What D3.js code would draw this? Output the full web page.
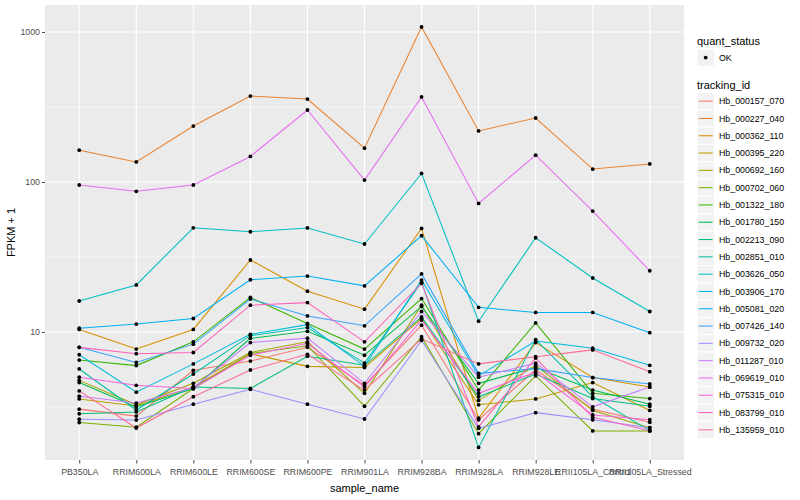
<!DOCTYPE html>
<html>
<head>
<meta charset="utf-8">
<script src="https://cdn.jsdelivr.net/npm/d3@7"></script>
<style>
  body { margin: 0; background: #fff; }
  text { font-family: "Liberation Sans", Arial, sans-serif; }
</style>
</head>
<body>
<svg width="800" height="500"></svg>
<script>
var samples = ["PB350LA", "RRIM600LA", "RRIM600LE", "RRIM600SE", "RRIM600PE", "RRIM901LA",
    "RRIM928BA", "RRIM928LA", "RRIM928LE", "RRII105LA_Control", "RRII105LA_Stressed"];

var trackingIds = ["Hb_000157_070", "Hb_000227_040", "Hb_000362_110", "Hb_000395_220", "Hb_000692_160",
    "Hb_000702_060", "Hb_001322_180", "Hb_001780_150", "Hb_002213_090", "Hb_002851_010",
    "Hb_003626_050", "Hb_003906_170", "Hb_005081_020", "Hb_007426_140", "Hb_009732_020",
    "Hb_011287_010", "Hb_069619_010", "Hb_075315_010", "Hb_083799_010", "Hb_135959_010"];

var colors = ["#F8766D", "#EA8331", "#D89000", "#C09B00", "#A3A500", "#7CAE00", "#39B600", "#00BB4E",
    "#00BF7D", "#00C1A3", "#00BFC4", "#00BAE0", "#00B0F6", "#35A2FF", "#9590FF", "#C77CFF",
    "#E76BF3", "#FA62DB", "#FF62BC", "#FF6C91"];

// FPKM + 1, one row per tracking_id, one column per sample
var fpkm = [
    [3.06, 2.75, 5.55, 6.4, 7.9, 4.4, 11.1, 2.6, 5.6, 3.05, 2.5],
    [163, 136, 236, 374, 357, 168, 1080, 219, 267, 122, 132],
    [10.4, 7.7, 10.4, 30.2, 18.7, 14.2, 49, 2.66, 8.5, 4.97, 4.3],
    [3.58, 3.21, 4.3, 7.15, 5.9, 5.8, 12.3, 3.27, 3.58, 4.6, 3.0],
    [4.76, 3.27, 4.55, 7.3, 8.6, 3.9, 15.1, 3.5, 6.0, 3.0, 2.3],
    [2.49, 2.32, 4.2, 7.2, 8.1, 3.2, 9.3, 2.1, 5.1, 2.19, 2.19],
    [6.5, 5.97, 8.6, 17.0, 11.4, 7.7, 16.7, 4.1, 11.5, 3.9, 3.6],
    [4.6, 3.16, 4.2, 9.07, 10.1, 7.0, 14.8, 4.55, 5.8, 4.1, 3.3],
    [2.85, 2.93, 4.3, 4.2, 6.9, 6.0, 12.6, 3.7, 5.25, 3.6, 3.2],
    [5.67, 3.02, 5.25, 9.45, 10.7, 6.2, 21.5, 1.7, 8.9, 3.7, 2.2],
    [16.1, 20.6, 49.5, 46.6, 49.4, 38.6, 114, 11.8, 42.5, 22.9, 13.7],
    [7.05, 3.97, 6.13, 9.65, 11.2, 5.9, 22.2, 5.1, 8.7, 7.8, 6.0],
    [10.6, 11.3, 12.3, 22.3, 23.6, 20.3, 43.9, 14.6, 13.5, 13.5, 9.9],
    [7.9, 6.27, 8.3, 16.6, 12.8, 11.0, 24.4, 5.3, 5.7, 4.97, 4.5],
    [2.62, 2.59, 3.3, 4.15, 3.3, 2.63, 8.8, 2.28, 2.9, 2.6, 2.3],
    [3.73, 3.36, 4.25, 8.5, 9.1, 4.55, 13.7, 5.0, 6.2, 3.17, 4.3],
    [95.5, 86.7, 95.5, 148, 302, 103, 369, 72, 151, 64, 25.6],
    [5.0, 4.41, 4.2, 7.0, 8.4, 4.3, 12.0, 3.9, 5.4, 2.8, 2.6],
    [7.9, 7.17, 7.3, 15.1, 15.7, 8.6, 21.1, 2.33, 6.7, 2.7, 2.2],
    [4.05, 2.29, 3.7, 5.58, 7.1, 4.1, 9.0, 6.13, 6.85, 7.6, 5.44]
];

var yMajor = [10, 100, 1000];
var yMinor = [Math.sqrt(10), Math.sqrt(1000), Math.sqrt(100000)];

var svg = d3.select("svg");
var panel = { left: 45, right: 684, top: 5, bottom: 460 };

var x = d3.scalePoint().domain(samples).range([panel.left, panel.right]).padding(0.6);
// log axis: 10 sits at y=332, one decade is 150px
var y = d3.scaleLog()
    .domain([Math.pow(10, 1 - (panel.bottom - 332) / 150), Math.pow(10, 1 + (332 - panel.top) / 150)])
    .range([panel.bottom, panel.top]);

// panel background
svg.append("rect")
    .attr("x", panel.left).attr("y", panel.top)
    .attr("width", panel.right - panel.left).attr("height", panel.bottom - panel.top)
    .attr("fill", "#EBEBEB");

var grid = svg.append("g");
grid.selectAll("line.minor").data(yMinor).enter().append("line")
    .attr("x1", panel.left).attr("x2", panel.right)
    .attr("y1", function (d) { return y(d); }).attr("y2", function (d) { return y(d); })
    .attr("stroke", "#fff").attr("stroke-width", 0.55);
grid.selectAll("line.majy").data(yMajor).enter().append("line")
    .attr("x1", panel.left).attr("x2", panel.right)
    .attr("y1", function (d) { return y(d); }).attr("y2", function (d) { return y(d); })
    .attr("stroke", "#fff").attr("stroke-width", 1.1);
grid.selectAll("line.majx").data(samples).enter().append("line")
    .attr("x1", function (d) { return x(d); }).attr("x2", function (d) { return x(d); })
    .attr("y1", panel.top).attr("y2", panel.bottom)
    .attr("stroke", "#fff").attr("stroke-width", 1.1);

// series
var rows = trackingIds.map(function (id, i) {
    return { id: id, color: colors[i], values: fpkm[i] };
});

var line = d3.line()
    .x(function (d, i) { return x(samples[i]); })
    .y(function (d) { return y(d); });

svg.append("g").selectAll("path").data(rows).enter().append("path")
    .attr("d", function (d) { return line(d.values); })
    .attr("fill", "none")
    .attr("stroke", function (d) { return d.color; })
    .attr("stroke-width", 1.05);

var pts = [];
rows.forEach(function (r) {
    r.values.forEach(function (v, i) { pts.push({ s: samples[i], v: v }); });
});
svg.append("g").selectAll("circle").data(pts).enter().append("circle")
    .attr("cx", function (d) { return x(d.s); })
    .attr("cy", function (d) { return y(d.v); })
    .attr("r", 1.9)
    .attr("fill", "#000");

// axes
var yAxis = d3.axisLeft(y).tickValues(yMajor).tickFormat(d3.format("d")).tickSize(3).tickPadding(2);
var gy = svg.append("g").attr("transform", "translate(" + panel.left + ",0)").call(yAxis);
var xAxis = d3.axisBottom(x).tickSize(3.5).tickPadding(5);
var gx = svg.append("g").attr("transform", "translate(0," + panel.bottom + ")").call(xAxis);
[gx, gy].forEach(function (g) {
    g.select(".domain").remove();
    g.selectAll(".tick line").attr("stroke", "#333").attr("stroke-width", 0.9);
    g.selectAll(".tick text").attr("fill", "#4D4D4D").style("font-size", "8.8px")
        .style("font-family", "'Liberation Sans', Arial, sans-serif");
});

svg.append("text")
    .attr("x", (panel.left + panel.right) / 2).attr("y", 492)
    .attr("text-anchor", "middle").style("font-size", "11px").attr("fill", "#000")
    .text("sample_name");
svg.append("text")
    .attr("transform", "translate(15," + ((panel.top + panel.bottom) / 2) + ") rotate(-90)")
    .attr("text-anchor", "middle").style("font-size", "11px").attr("fill", "#000")
    .text("FPKM + 1");

// legends
var lg = svg.append("g").attr("transform", "translate(697,0)");
lg.append("text").attr("x", 0).attr("y", 45).style("font-size", "11px").text("quant_status");
lg.append("rect").attr("x", 0).attr("y", 49).attr("width", 17.3).attr("height", 17.3)
    .attr("fill", "#F2F2F2").attr("stroke", "#fff");
lg.append("circle").attr("cx", 8.65).attr("cy", 57.6).attr("r", 1.9).attr("fill", "#000");
lg.append("text").attr("x", 22).attr("y", 60.8).style("font-size", "8.8px").text("OK");

lg.append("text").attr("x", 0).attr("y", 89).style("font-size", "11px").text("tracking_id");
var keys = lg.selectAll("g.key").data(rows).enter().append("g")
    .attr("transform", function (d, i) { return "translate(0," + (92.5 + i * 17.3) + ")"; });
keys.append("rect").attr("width", 17.3).attr("height", 17.3)
    .attr("fill", "#F2F2F2").attr("stroke", "#fff");
keys.append("line").attr("x1", 1.7).attr("x2", 15.6).attr("y1", 8.65).attr("y2", 8.65)
    .attr("stroke", function (d) { return d.color; }).attr("stroke-width", 1.05);
keys.append("text").attr("x", 22).attr("y", 11.8).style("font-size", "8.8px")
    .text(function (d) { return d.id; });
</script>
</body>
</html>
